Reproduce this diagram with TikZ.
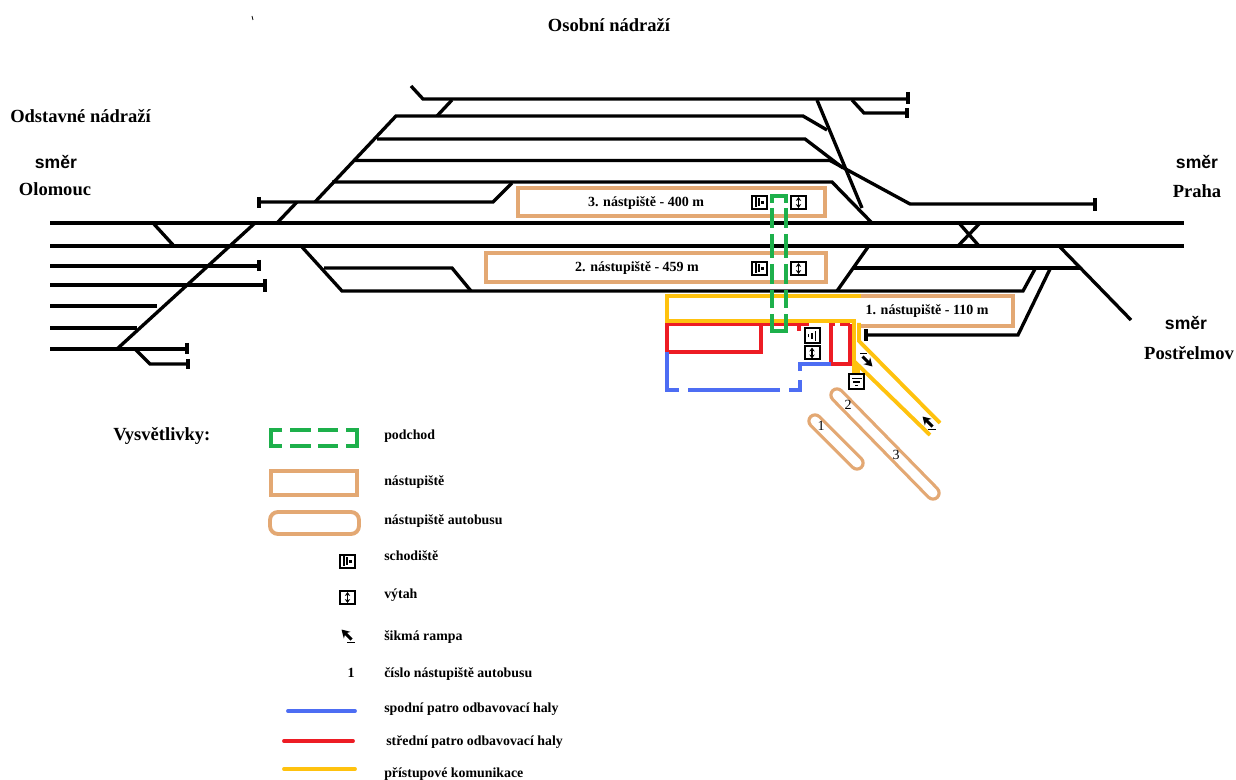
\documentclass[tikz,border=0pt]{standalone}
\usepackage{fontspec}
\setmainfont{Liberation Serif}
\newfontfamily\dirsans{Liberation Sans}
\usetikzlibrary{arrows.meta}
\definecolor{tanc}{HTML}{E3A873}
\definecolor{greenc}{HTML}{1DB04B}
\definecolor{yellowc}{HTML}{FFC20E}
\definecolor{redc}{HTML}{ED1C24}
\definecolor{bluec}{HTML}{4D6DF3}
\tikzset{
  x=0.75pt,y=-0.75pt,
  track/.style={line width=2.5pt,black,line join=miter},
  stopper/.style={line width=2.6pt,black},
  plat/.style={line width=2.9pt,tanc},
  busplat/.style={line width=2.4pt,draw=tanc,double=white,double distance=6.8pt,line cap=round},
  under/.style={line width=2.9pt,greenc},
  stairway/.style={line width=2.9pt,yellowc},
  midfloor/.style={line width=2.9pt,redc},
  lowfloor/.style={line width=2.9pt,bluec},
  icbox/.style={line width=1.5pt,black,fill=white},
  lab/.style={font=\bfseries\fontsize{10.4pt}{11pt}\selectfont,anchor=base west,inner sep=0pt},
  ptext/.style={font=\bfseries\fontsize{10.5pt}{12pt}\selectfont,inner sep=0pt},
  busnum/.style={font=\fontsize{10.5pt}{12pt}\selectfont,inner sep=0pt},
  big/.style={font=\bfseries\fontsize{13.9pt}{15pt}\selectfont,inner sep=0pt},
  dirword/.style={font=\dirsans\bfseries\fontsize{13.2pt}{15pt}\selectfont,inner sep=0pt},
  stairsic/.pic={
    \draw[icbox] (-7.5,-6.5) rectangle (7.5,6.5);
    \draw[line width=1.3pt] (-3.5,-5) -- (-3.5,5);
    \draw[line width=0.9pt] (-0.5,-4) -- (-0.5,4);
    \fill (1.5,-1.8) rectangle (4.5,1.8);
  },
  stairsthree/.pic={
    \draw[icbox] (-7.5,-7.5) rectangle (7.5,7.5);
    \draw[line width=1.2pt] (-3.5,-5) -- (-3.5,5);
    \draw[line width=1.2pt] (0,-3.2) -- (0,3.2);
    \draw[line width=1.4pt] (3.5,-1.5) -- (3.5,1.5);
  },
  liftic/.pic={
    \draw[icbox] (-7.5,-6.5) rectangle (7.5,6.5);
    \draw[line width=1pt,{Stealth[length=3pt,width=4pt]}-{Stealth[length=3pt,width=4pt]}] (0,-5.5) -- (0,5.5);
  },
  ramparrow/.pic={
    \draw[line width=2.2pt,-{Stealth[length=6pt,width=7pt]}] (4.5,3.5) -- (-5.5,-6.5);
    \draw[line width=0.9pt] (0,6.5) -- (7.5,6.5);
  }
}
\begin{document}
\begin{tikzpicture}
\useasboundingbox (0,0) rectangle (1236,780);

% platforms
\draw[plat] (518,188) rectangle (825,216);
\draw[plat] (486,253) rectangle (826,282);
\draw[plat] (861,296) -- (1013,296) -- (1013,326) -- (858,326);

% tracks
\draw[track] (50,223) -- (1184,223);
\draw[track] (50,246) -- (1184,246);
\draw[track] (50,266) -- (259,266);
\draw[stopper] (259,260) -- (259,271);
\draw[track] (50,285) -- (265,285);
\draw[stopper] (265,279) -- (265,292);
\draw[track] (50,306) -- (157,306);
\draw[track] (50,328) -- (137,328);
\draw[track] (50,349) -- (187,349);
\draw[stopper] (187,343) -- (187,354);
\draw[track] (135,349) -- (150,364) -- (188,364);
\draw[stopper] (188,359) -- (188,369);
\draw[track] (117,349) -- (255,223);
\draw[track] (153,223) -- (174,246);
\draw[track] (277,223) -- (297,202);
\draw[track] (259,202) -- (493,202) -- (512,183);
\draw[stopper] (259,197) -- (259,208);
\draw[track] (332,182) -- (832,182) -- (872,223);
\draw[track] (315,202) -- (396,116) -- (803,116) -- (827,130);
\draw[track] (377,139) -- (805,139) -- (843,168);
\draw[track] (355,160.5) -- (830,160.5) -- (910,204) -- (1095,204);
\draw[stopper] (1095,198) -- (1095,211);
\draw[track] (411,86) -- (423,99) -- (908,99);
\draw[stopper] (908,92) -- (908,104);
\draw[track] (852,100) -- (864,113) -- (907,113);
\draw[stopper] (907,108) -- (907,118);
\draw[track] (437,116) -- (452,100);
\draw[track] (817,100) -- (862,208);
\draw[track] (302,247) -- (342,291) -- (1023,291) -- (1035,269);
\draw[track] (324,268) -- (452,268) -- (471,291);
\draw[track] (837,291) -- (868,247);
\draw[track] (853,268) -- (1080,268);
\draw[track] (1060,247) -- (1131,320);
\draw[track] (866,335) -- (1018,335) -- (1050,269);
\draw[stopper] (866,329) -- (866,341);
\draw[track] (958,246) -- (980,223);
\draw[track] (959,223) -- (979,246);

% halls and walkways
\draw[midfloor] (667,352) -- (761,352) -- (761,324) -- (809,324);
\draw[midfloor] (667,352) -- (667,324) -- (761,324);
\draw[midfloor] (799,324) -- (799,331);
\draw[midfloor] (850,324) -- (850,364) -- (831,364) -- (831,324) -- (835,324);
\draw[midfloor] (840,324) -- (850,324);
\draw[lowfloor] (667,352) -- (667,390) -- (679,390);
\draw[lowfloor] (688,390) -- (780,390);
\draw[lowfloor] (789,390) -- (800,390) -- (800,380);
\draw[lowfloor] (800,371) -- (800,364) -- (831,364);
\draw[stairway] (861,296) -- (667,296) -- (667,321) -- (854,321) -- (854,375);
\draw[stairway] (858,374) -- (858,365) -- (930,435);
\draw[stairway] (859,323) -- (859,341) -- (940,423);

% underpass
\draw[under] (772,203) -- (772,196) -- (786,196) -- (786,203);
\foreach \a/\b in {208/228,234/258,264/284,290/308}{
  \draw[under] (772,\a) -- (772,\b);
  \draw[under] (786,\a) -- (786,\b);
}
\draw[under] (772,314) -- (772,331) -- (786,331) -- (786,314);

% bus platforms
\draw[busplat] (815,421) -- (857,463);
\draw[busplat] (837,395) -- (933,493);

% icons
\pic at (759.5,202.5) {stairsic};
\pic at (798.5,202.5) {liftic};
\pic at (759.5,268.5) {stairsic};
\pic at (798.5,268.5) {liftic};
\pic[rotate=180] at (812,336) {stairsthree};
\pic at (812,353) {liftic};
\pic[rotate=-90] at (856.5,382) {stairsthree};
\pic[rotate=180] at (867,360) {ramparrow};
\pic at (928,423) {ramparrow};

% texts
\node[big] (title) at (609,25) {Osobní nádraží};
\node[big,anchor=west] (yard) at (10,116) {Odstavné nádraží};
\node[dirword] (dirA) at (56,162) {směr};
\node[big] (dirAb) at (55,189) {Olomouc};
\node[dirword] (dirB) at (1197,162) {směr};
\node[big] (dirBb) at (1197,191) {Praha};
\node[dirword] (dirC) at (1186,323) {směr};
\node[big] (dirCb) at (1189,353) {Postřelmov};
\draw[line width=0.6pt] (252,16) -- (253,20);

\node[ptext] (p3) at (646,203) {3. nástpiště - 400 m};
\node[ptext] (p2) at (637,268) {2. nástupiště - 459 m};
\node[ptext] (p1) at (927,311) {1. nástupiště - 110 m};
\node[busnum] (b1) at (821,426) {1};
\node[busnum] (b2) at (848,405) {2};
\node[busnum] (b3) at (896,455) {3};

% legend
\node[big,anchor=west] (legend) at (113,436) {Vysvětlivky:};
\draw[under] (282,430) -- (271,430) -- (271,446) -- (282,446);
\draw[under] (290,430) -- (311,430) (290,446) -- (311,446);
\draw[under] (318,430) -- (338,430) (318,446) -- (338,446);
\draw[under] (346,430) -- (357,430) -- (357,446) -- (346,446);
\draw[plat] (271,471) rectangle (357,495);
\draw[plat,rounded corners=6pt] (270,512) rectangle (359,534);
\pic at (347.5,561.5) {stairsic};
\pic at (347.5,597.5) {liftic};
\pic at (347,636) {ramparrow};
\node[ptext] (n1) at (351,673) {1};
\draw[lowfloor,line cap=round] (288,711) -- (355,711);
\draw[midfloor,line cap=round] (284,741) -- (353,741);
\draw[stairway,line cap=round] (284,769) -- (355,769);

\node[lab] (l1) at (384,440) {podchod};
\node[lab] (l2) at (384,486) {nástupiště};
\node[lab] (l3) at (384,525) {nástupiště autobusu};
\node[lab] (l4) at (384,561) {schodiště};
\node[lab] (l5) at (384,599) {výtah};
\node[lab] (l6) at (384,640) {šikmá rampa};
\node[lab] (l7) at (384,677) {číslo nástupiště autobusu};
\node[lab] (l8) at (384,712) {spodní patro odbavovací haly};
\node[lab] (l9) at (386,745) {střední patro odbavovací haly};
\node[lab] (l10) at (384,777) {přístupové komunikace};
\end{tikzpicture}
\end{document}
